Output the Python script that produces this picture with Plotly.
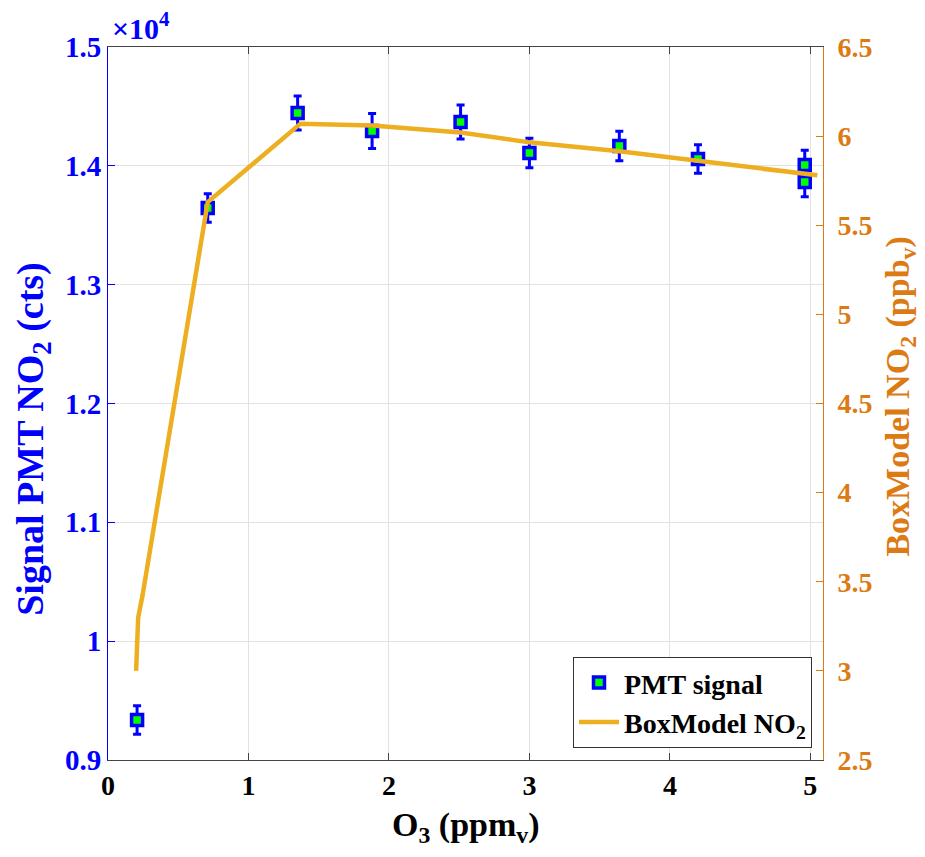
import plotly.graph_objects as go

# ---- data ----
o3_meas = [0.207, 0.71, 1.35, 1.88, 2.51, 3.0, 3.64, 4.2, 4.96, 4.96]
pmt_signal = [9337, 13645, 14445, 14293, 14369, 14108, 14167, 14058, 14007, 13864]
pmt_err = [120, 120, 143, 147, 143, 125, 125, 120, 125, 125]

o3_model = [0.2, 0.215, 0.245, 0.71, 1.37, 1.88, 2.51, 3.0, 3.64, 4.2, 5.05]
boxmodel_no2 = [3.0, 3.3, 3.42, 5.63, 6.07, 6.06, 6.02, 5.965, 5.915, 5.86, 5.78]

left_tickvals = [9000, 10000, 11000, 12000, 13000, 14000, 15000]
left_ticktext = ["0.9", "1", "1.1", "1.2", "1.3", "1.4", "1.5"]
right_tickvals = [2.5, 3, 3.5, 4, 4.5, 5, 5.5, 6, 6.5]
right_ticktext = ["2.5", "3", "3.5", "4", "4.5", "5", "5.5", "6", "6.5"]
x_tickvals = [0, 1, 2, 3, 4, 5]

BLUE = "#0000FF"
ORANGE_AX = "rgb(220,122,20)"
LINE_COL = "rgb(237,174,32)"
FONT = "Liberation Serif"

fig = go.Figure()
fig.add_trace(go.Scatter(
    x=o3_model, y=boxmodel_no2, yaxis="y2", mode="lines",
    line=dict(color=LINE_COL, width=4.5),
    name="BoxModel NO<sub>2</sub>", legendrank=2,
))
fig.add_trace(go.Scatter(
    x=o3_meas, y=pmt_signal, mode="markers",
    marker=dict(symbol="square", size=11, color="#00FF00",
                line=dict(color=BLUE, width=3.5)),
    error_y=dict(type="data", array=pmt_err, color=BLUE, thickness=3, width=4),
    name="PMT signal", legendrank=1,
))

fig.update_layout(
    width=917, height=849,
    margin=dict(l=100, r=102, t=39, b=97),
    plot_bgcolor="white", paper_bgcolor="white",
    font=dict(family=FONT, size=24, color="black", weight="bold"),
    showlegend=True,
    legend=dict(
        x=0.9846, xanchor="right", y=0.017, yanchor="bottom",
        bgcolor="white", bordercolor="#333333", borderwidth=1,
        font=dict(family=FONT, size=28, color="black", weight="bold"),
        tracegroupgap=0, itemwidth=40,
    ),
    xaxis=dict(
        range=[0, 5.09], tickvals=x_tickvals,
        ticks="inside", ticklen=7, tickcolor="#444444",
        showline=True, linecolor="#444444", linewidth=1, mirror="ticks",
        showgrid=True, gridcolor="rgb(226,226,226)", gridwidth=1,
        zeroline=False,
        tickfont=dict(family=FONT, size=28, color="black", weight="bold"),
    ),
    yaxis=dict(
        range=[9000, 15000], tickvals=left_tickvals, ticktext=left_ticktext,
        ticks="inside", ticklen=7, tickcolor=BLUE,
        showline=True, linecolor=BLUE, linewidth=1,
        showgrid=True, gridcolor="rgb(226,226,226)", gridwidth=1,
        zeroline=False,
        tickfont=dict(family=FONT, size=29, color=BLUE, weight="bold"),
    ),
    yaxis2=dict(
        range=[2.5, 6.5], tickvals=right_tickvals, ticktext=right_ticktext,
        overlaying="y", side="right", anchor="x",
        ticks="inside", ticklen=7, tickcolor=ORANGE_AX,
        showline=True, linecolor=ORANGE_AX, linewidth=1,
        showgrid=False, zeroline=False, ticklabelstandoff=8,
        tickfont=dict(family=FONT, size=28, color=ORANGE_AX, weight="bold"),
    ),
)

annotations = [
    dict(text="O<sub>3</sub> (ppm<sub>v</sub>)", xref="paper", yref="paper",
         x=0.5, y=-0.062, xanchor="center", yanchor="top", showarrow=False,
         font=dict(family=FONT, size=34, color="black", weight="bold")),
    dict(text="Signal PMT NO<sub>2</sub> (cts)", xref="paper", yref="paper",
         x=-0.104, y=0.45, xanchor="center", yanchor="middle", showarrow=False,
         textangle=-90,
         font=dict(family=FONT, size=38, color=BLUE, weight="bold")),
    dict(text="BoxModel NO<sub>2</sub> (ppb<sub>v</sub>)", xref="paper", yref="paper",
         x=1.108, y=0.51, xanchor="center", yanchor="middle", showarrow=False,
         textangle=-90,
         font=dict(family=FONT, size=34, color=ORANGE_AX, weight="bold")),
    dict(text="×10<sup>4</sup>", xref="paper", yref="paper",
         x=0.0, y=1.0, xanchor="left", yanchor="bottom", showarrow=False,
         xshift=2, yshift=0,
         font=dict(family=FONT, size=30, color=BLUE, weight="bold")),
]
fig.update_layout(annotations=annotations)

fig.write_html("out.html")
